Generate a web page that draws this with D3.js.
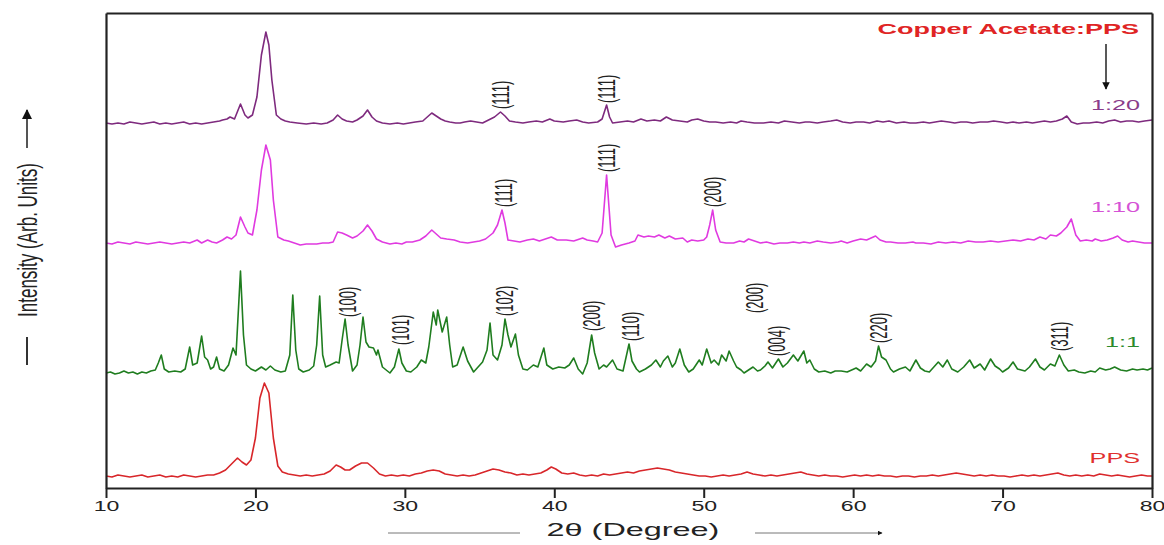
<!DOCTYPE html>
<html>
<head>
<meta charset="utf-8">
<script src="https://cdn.jsdelivr.net/npm/d3@7"></script>
<style>
  body { margin: 0; background: #fff; }
  svg { display: block; font-family: "Liberation Sans", Arial, sans-serif; }
</style>
</head>
<body>
<svg id="chart" width="1164" height="545"></svg>
<script>
// tick values of the 2-theta axis
var xTicks = [10, 20, 30, 40, 50, 60, 70, 80];

// series names, bottom to top
var sampleNames = ["PPS", "1:1", "1:10", "1:20"];

// patterns: [2theta, intensity above own baseline]
var pps = [[10,2],[10.4,1],[10.8,3],[11.2,2],[11.6,1],[12,2],[12.4,3],[12.8,1],[13.2,2],[13.6,3],[14,1],[14.4,2],[14.8,1],[15.2,3],[15.6,2],[16,1],[16.4,2],[16.8,3],[17.2,3],[17.6,5],[18,8],[18.4,14],[18.8,20],[19.1,16],[19.4,13],[19.7,18],[20,40],[20.3,80],[20.6,95],[20.9,85],[21.2,40],[21.5,12],[21.8,6],[22.2,4],[22.6,3],[23,2],[23.4,3],[23.8,2],[24.2,3],[24.6,4],[25,7],[25.4,13],[25.7,11],[26,8],[26.3,8],[26.7,12],[27.1,15],[27.5,15],[27.9,10],[28.3,4],[28.7,2],[29.1,3],[29.5,2],[29.9,3],[30.3,2],[30.7,4],[31.1,5],[31.5,7],[31.9,8],[32.3,7],[32.7,4],[33.1,3],[33.5,2],[33.9,3],[34.3,2],[34.7,3],[35.1,5],[35.5,7],[35.9,9],[36.3,8],[36.7,6],[37.1,5],[37.5,3],[37.9,4],[38.3,3],[38.7,4],[39.1,5],[39.5,8],[39.8,11],[40.1,9],[40.5,5],[40.9,4],[41.3,5],[41.7,3],[42.1,2],[42.5,3],[42.9,2],[43.3,4],[43.7,3],[44.1,4],[44.5,5],[44.9,6],[45.3,5],[45.7,7],[46.1,8],[46.5,9],[46.9,10],[47.3,9],[47.7,8],[48.1,6],[48.5,5],[48.9,4],[49.3,3],[49.7,2],[50.1,2],[50.5,1],[50.9,2],[51.3,3],[51.7,2],[52.1,3],[52.5,4],[52.9,6],[53.3,4],[53.7,3],[54.1,2],[54.5,3],[54.9,2],[55.3,3],[55.7,4],[56.1,5],[56.5,6],[56.9,4],[57.3,3],[57.7,2],[58.1,3],[58.5,2],[58.9,2],[59.3,1],[59.7,2],[60.1,3],[60.5,2],[60.9,3],[61.3,2],[61.7,3],[62.1,2],[62.5,2],[62.9,1],[63.3,2],[63.7,2],[64.1,1],[64.5,2],[64.9,2],[65.3,3],[65.7,2],[66.1,3],[66.5,4],[66.9,5],[67.3,4],[67.7,3],[68.1,2],[68.5,3],[68.9,2],[69.3,3],[69.7,2],[70.1,2],[70.5,1],[70.9,2],[71.3,3],[71.7,2],[72.1,3],[72.5,2],[72.9,3],[73.3,4],[73.7,5],[74.1,3],[74.5,2],[74.9,3],[75.3,2],[75.7,3],[76.1,2],[76.5,4],[76.9,3],[77.3,2],[77.7,3],[78.1,2],[78.5,1],[78.9,2],[79.3,3],[79.7,2],[80,2]];

var ratio1to1 = [[10,2],[10.3,3],[10.6,1],[10.9,2],[11.2,4],[11.5,2],[11.8,3],[12.1,1],[12.4,3],[12.7,2],[13,4],[13.3,5],[13.5,12],[13.7,20],[13.9,6],[14.2,3],[14.6,4],[15,3],[15.3,6],[15.6,28],[15.8,10],[16.1,12],[16.4,39],[16.6,18],[16.8,15],[17,6],[17.2,8],[17.4,18],[17.6,6],[17.9,4],[18.2,10],[18.5,27],[18.7,20],[19.0,104],[19.2,40],[19.4,10],[19.7,6],[20,4],[20.4,8],[20.7,5],[21.0,9],[21.3,5],[21.7,3],[22.0,4],[22.3,20],[22.5,80],[22.7,25],[22.9,6],[23.2,3],[23.6,5],[23.9,9],[24.1,30],[24.3,79],[24.5,20],[24.7,8],[25.0,10],[25.4,13],[25.6,12],[25.8,35],[26.0,56],[26.2,30],[26.5,4],[26.8,10],[27.0,30],[27.2,58],[27.4,33],[27.6,28],[27.9,27],[28.1,20],[28.2,25],[28.5,8],[29.0,2],[29.3,8],[29.6,26],[29.8,12],[30.1,4],[30.4,3],[30.8,8],[31.1,15],[31.4,12],[31.6,28],[31.9,63],[32.1,50],[32.2,65],[32.5,43],[32.8,58],[33.0,30],[33.2,8],[33.5,10],[33.9,28],[34.2,14],[34.6,3],[34.9,8],[35.2,13],[35.5,25],[35.7,52],[35.9,20],[36.2,15],[36.5,30],[36.7,56],[36.9,40],[37.1,28],[37.4,41],[37.6,20],[37.9,6],[38.2,5],[38.6,10],[38.9,8],[39.3,27],[39.5,10],[39.9,6],[40.3,8],[40.7,7],[41.0,10],[41.3,17],[41.6,6],[41.9,1],[42.2,12],[42.5,40],[42.7,22],[43.0,6],[43.3,10],[43.5,8],[43.9,15],[44.2,6],[44.6,4],[45.0,31],[45.2,14],[45.5,6],[45.7,3],[46.1,6],[46.5,10],[46.8,15],[47.1,8],[47.3,14],[47.6,19],[47.9,8],[48.1,12],[48.4,26],[48.7,10],[49.0,3],[49.3,6],[49.7,15],[49.9,10],[50.2,26],[50.5,12],[50.7,15],[51.0,10],[51.2,20],[51.5,14],[51.7,24],[52.0,14],[52.2,8],[52.5,5],[52.7,2],[53.0,5],[53.3,8],[53.6,4],[53.8,5],[54.1,9],[54.3,13],[54.6,7],[55.0,16],[55.3,8],[55.6,12],[56.0,20],[56.3,14],[56.5,19],[56.7,24],[56.9,12],[57.1,15],[57.4,6],[57.7,3],[58.1,4],[58.5,2],[58.8,4],[59.2,4],[59.6,3],[59.9,5],[60.2,7],[60.5,4],[60.9,11],[61.2,8],[61.5,14],[61.7,29],[61.9,18],[62.2,15],[62.5,6],[62.7,3],[63.1,6],[63.5,8],[63.8,4],[64.2,15],[64.5,7],[64.8,4],[65.1,3],[65.4,8],[65.7,13],[66.0,8],[66.3,15],[66.6,6],[67.0,3],[67.4,8],[67.8,15],[68.1,7],[68.5,11],[68.8,5],[69.2,16],[69.5,9],[69.8,6],[70.0,3],[70.4,7],[70.7,13],[71.0,6],[71.5,4],[71.8,8],[72.2,16],[72.5,8],[72.8,5],[73.2,11],[73.5,9],[73.8,20],[74.1,10],[74.4,4],[74.8,5],[75.1,3],[75.5,2],[75.9,4],[76.2,3],[76.5,7],[76.9,5],[77.2,6],[77.5,8],[77.9,5],[78.3,4],[78.7,6],[79.0,5],[79.4,6],[79.7,5],[80,7]];

var ratio1to10 = [[10,2],[10.4,1],[10.8,3],[11.2,2],[11.6,1],[12,3],[12.4,2],[12.8,1],[13.2,2],[13.6,3],[14,2],[14.4,1],[14.8,2],[15.2,3],[15.6,2],[16.1,5],[16.4,2],[16.8,5],[17.1,3],[17.4,2],[17.8,5],[18.1,8],[18.4,6],[18.7,10],[19.0,28],[19.3,18],[19.5,12],[19.8,10],[20.1,35],[20.4,75],[20.7,100],[21.0,85],[21.2,45],[21.5,8],[21.9,5],[22.2,4],[22.6,2],[23.0,0],[23.4,1],[23.8,1],[24.1,1],[24.5,2],[24.9,2],[25.2,3],[25.5,13],[25.8,12],[26.1,10],[26.5,7],[26.8,9],[27.2,14],[27.5,20],[27.8,14],[28.1,6],[28.5,3],[29.0,1],[29.4,2],[29.8,1],[30.1,3],[30.5,3],[31.0,5],[31.4,9],[31.8,15],[32.1,11],[32.4,7],[32.8,6],[33.3,5],[33.7,3],[34.2,2],[34.6,3],[35.0,4],[35.4,6],[35.9,12],[36.2,20],[36.5,35],[36.7,22],[36.9,5],[37.3,4],[37.7,3],[38.2,5],[38.6,6],[39.0,4],[39.4,6],[39.8,8],[40.2,5],[40.8,5],[41.3,4],[41.9,7],[42.2,5],[42.6,4],[42.9,3],[43.2,12],[43.5,70],[43.8,10],[44.1,-2],[44.5,0],[45.0,2],[45.4,4],[45.6,10],[46.0,8],[46.3,9],[46.7,8],[47.0,10],[47.4,7],[47.7,9],[48.1,6],[48.6,7],[48.9,3],[49.2,5],[49.6,4],[50.0,5],[50.2,8],[50.4,20],[50.6,35],[50.8,15],[51.1,3],[51.5,2],[52.0,2],[52.4,4],[52.7,3],[53.0,6],[53.4,4],[53.8,2],[54.2,3],[54.7,1],[55.1,2],[55.6,2],[56.0,3],[56.4,2],[56.7,3],[57.1,2],[57.6,4],[58.0,3],[58.5,2],[59.0,3],[59.2,4],[59.6,2],[60.0,4],[60.5,6],[60.9,5],[61.2,7],[61.5,9],[61.8,5],[62.2,3],[62.5,3],[63.0,2],[63.5,2],[64.0,3],[64.2,2],[64.7,2],[65.2,1],[65.7,3],[66.2,2],[66.7,3],[67.2,2],[67.7,4],[68.2,3],[68.7,3],[69.2,4],[69.7,3],[70.2,4],[70.7,5],[71.2,4],[71.7,6],[72.1,5],[72.5,8],[72.9,6],[73.2,10],[73.6,9],[73.9,12],[74.3,18],[74.6,26],[74.9,10],[75.2,4],[75.6,5],[76.0,4],[76.2,6],[76.6,4],[77.0,5],[77.4,7],[77.7,9],[78.0,5],[78.4,3],[78.7,4],[79.1,3],[79.5,2],[80,2]];

var ratio1to20 = [[10,2],[10.4,1],[10.8,2],[11.2,1],[11.6,3],[12,2],[12.4,1],[12.8,2],[13.2,3],[13.6,1],[14,2],[14.4,1],[14.8,2],[15.2,3],[15.6,1],[16,2],[16.4,1],[16.8,2],[17.2,3],[17.6,4],[17.8,5],[18.1,6],[18.3,8],[18.6,6],[19.0,21],[19.3,10],[19.5,7],[19.8,10],[20.1,28],[20.4,70],[20.7,93],[20.9,80],[21.1,45],[21.4,10],[21.7,6],[22.0,4],[22.3,3],[22.8,2],[23.4,1],[23.9,2],[24.4,1],[24.8,2],[25.2,5],[25.5,10],[25.8,6],[26.1,4],[26.5,3],[26.8,5],[27.2,9],[27.5,15],[27.8,8],[28.1,4],[28.5,2],[29.0,1],[29.5,2],[29.9,1],[30.3,2],[30.7,3],[31.2,4],[31.5,8],[31.8,12],[32.1,9],[32.4,6],[32.7,4],[33.0,3],[33.4,2],[33.7,2],[34.0,3],[34.4,4],[34.8,3],[35.2,2],[35.6,5],[36.0,8],[36.4,13],[36.7,9],[37.0,4],[37.4,3],[37.9,2],[38.3,3],[38.8,4],[39.2,3],[39.7,6],[40.0,4],[40.6,3],[41.0,4],[41.5,5],[41.9,3],[42.3,2],[42.9,3],[43.2,6],[43.5,20],[43.7,8],[43.9,2],[44.4,3],[44.9,4],[45.3,3],[45.8,6],[46.2,4],[46.7,5],[47.1,4],[47.5,8],[47.9,5],[48.4,4],[48.9,3],[49.2,5],[49.6,6],[50.0,4],[50.4,3],[50.8,3],[51.3,2],[51.8,3],[52.2,2],[52.5,4],[52.9,3],[53.4,2],[54.0,2],[54.5,3],[55.0,2],[55.4,4],[55.9,3],[56.4,2],[56.8,3],[57.1,3],[57.6,2],[58.0,3],[58.5,4],[58.9,5],[59.3,3],[59.8,2],[60.2,3],[60.7,3],[61.1,2],[61.6,4],[62.0,3],[62.4,4],[62.9,2],[63.4,3],[63.8,2],[64.2,2],[64.7,3],[65.1,2],[65.5,3],[65.9,4],[66.4,3],[66.8,2],[67.2,3],[67.6,3],[68.0,2],[68.5,3],[69.0,3],[69.4,4],[69.9,3],[70.3,2],[70.7,3],[71.1,2],[71.6,3],[72.0,2],[72.4,3],[72.8,4],[73.2,3],[73.6,4],[74.0,6],[74.3,9],[74.6,3],[75.0,1],[75.4,2],[75.8,2],[76.3,3],[76.7,2],[77.1,4],[77.5,5],[77.9,3],[78.3,4],[78.7,4],[79.1,3],[79.5,4],[80,5]];

// Miller indices: [sample, hkl, 2theta, intensity where the label starts]
var peakLabels = [
  ["1:20", "(111)", 36.4, 16], ["1:20", "(111)", 43.5, 22],
  ["1:10", "(111)", 36.6, 38], ["1:10", "(111)", 43.5, 73], ["1:10", "(200)", 50.6, 38],
  ["1:1", "(100)", 26.2, 58], ["1:1", "(101)", 29.7, 30], ["1:1", "(102)", 36.7, 59],
  ["1:1", "(200)", 42.5, 44], ["1:1", "(110)", 45.1, 34], ["1:1", "(200)", 53.4, 62],
  ["1:1", "(004)", 54.9, 19], ["1:1", "(220)", 61.7, 32], ["1:1", "(311)", 73.8, 24]
];

var svg = d3.select("#chart");
var SX = 1.8; // the original figure is stretched sideways, text too

var margin = {top: 13, right: 12, bottom: 57, left: 106};
var W = 1164 - margin.left - margin.right;
var H = 545 - margin.top - margin.bottom;

var x = d3.scaleLinear().domain([10, 80]).range([0, W]);
var y = d3.scaleLinear().domain([0, 475]).range([H, 0]);

var g = svg.append("g").attr("transform", "translate(" + margin.left + "," + margin.top + ")");

// stacking offsets and colours for each trace
var series = [
  {name: "PPS",  data: pps,        offset: 10,  color: "#d8262a", text: "#e0302e", labelH: 20},
  {name: "1:1",  data: ratio1to1,  offset: 113, color: "#1f7d1f", text: "#2c8a2c", labelH: 33},
  {name: "1:10", data: ratio1to10, offset: 243, color: "#e03ae0", text: "#d552d5", labelH: 38},
  {name: "1:20", data: ratio1to20, offset: 363, color: "#7e2a7e", text: "#8a3c8a", labelH: 20}
];
var byName = {};
series.forEach(function(s) { byName[s.name] = s; });

series.forEach(function(s) {
  var line = d3.line()
    .x(function(d) { return x(d[0]); })
    .y(function(d) { return y(s.offset + d[1]); });
  g.append("path")
    .datum(s.data)
    .attr("fill", "none")
    .attr("stroke", s.color)
    .attr("stroke-width", 1.6)
    .attr("stroke-linejoin", "round")
    .attr("d", line);

  g.append("text")
    .attr("transform", "translate(" + (W - 12) + "," + y(s.offset + s.labelH) + ") scale(" + SX + ",1)")
    .attr("text-anchor", "end")
    .attr("dy", "0.35em")
    .attr("fill", s.text)
    .style("font-size", "14px")
    .text(s.name);
});

// hkl labels, rotated
g.selectAll(".hkl")
  .data(peakLabels)
  .enter().append("text")
  .attr("class", "hkl")
  .attr("transform", function(d) {
    var s = byName[d[0]];
    return "translate(" + x(d[2]) + "," + y(s.offset + d[3]) + ") scale(" + SX + ",1) rotate(-90)";
  })
  .attr("dy", "0.35em")
  .attr("fill", "#222")
  .style("font-size", "13px")
  .text(function(d) { return d[1]; });

// axes: bottom with ticks, the rest plain frame
var xAxis = g.append("g")
  .attr("transform", "translate(0," + H + ")")
  .call(d3.axisBottom(x).tickValues(xTicks).tickSize(10).tickSizeOuter(0).tickFormat(d3.format("d")));
xAxis.selectAll("text")
  .attr("transform", "scale(1.65,1)")
  .style("font-size", "14px")
  .attr("fill", "#222");

g.append("g").call(d3.axisLeft(y).tickValues([]).tickSizeOuter(0));
g.append("g").call(d3.axisTop(x).tickValues([]).tickSizeOuter(0));
g.append("g").attr("transform", "translate(" + W + ",0)").call(d3.axisRight(y).tickValues([]).tickSizeOuter(0));
g.selectAll(".domain").attr("stroke", "#222").attr("stroke-width", 2.2);
g.selectAll(".tick line").attr("stroke", "#222").attr("stroke-width", 2);

// arrow marker
svg.append("defs").append("marker")
  .attr("id", "head")
  .attr("viewBox", "0 0 10 10")
  .attr("refX", 9).attr("refY", 5)
  .attr("markerWidth", 5).attr("markerHeight", 5)
  .attr("orient", "auto")
  .append("path").attr("d", "M0,0L10,5L0,10z").attr("fill", "#111");

// x title with arrow lines
svg.append("text")
  .attr("transform", "translate(633,530) scale(" + SX + ",1)")
  .attr("text-anchor", "middle")
  .attr("dy", "0.35em")
  .attr("fill", "#222")
  .style("font-size", "18px")
  .text("2θ (Degree)");
svg.append("line").attr("x1", 388).attr("x2", 520).attr("y1", 533).attr("y2", 533)
  .attr("stroke", "#777").attr("stroke-width", 1);
svg.append("line").attr("x1", 755).attr("x2", 882).attr("y1", 533).attr("y2", 533)
  .attr("stroke", "#777").attr("stroke-width", 1).attr("marker-end", "url(#head)");

// y title with arrow lines
svg.append("text")
  .attr("transform", "translate(27,240) scale(1.6,1) rotate(-90)")
  .attr("text-anchor", "middle")
  .attr("dy", "0.35em")
  .attr("fill", "#222")
  .style("font-size", "17px")
  .text("Intensity (Arb. Units)");
svg.append("line").attr("x1", 27).attr("x2", 27).attr("y1", 337).attr("y2", 365)
  .attr("stroke", "#333").attr("stroke-width", 2);
svg.append("line").attr("x1", 27).attr("x2", 27).attr("y1", 148).attr("y2", 110)
  .attr("stroke", "#555").attr("stroke-width", 2).attr("marker-end", "url(#head)");

// legend title and pointer
svg.append("text")
  .attr("transform", "translate(1139,29) scale(" + SX + ",1)")
  .attr("text-anchor", "end")
  .attr("dy", "0.35em")
  .attr("fill", "#e02424")
  .style("font-size", "15px")
  .style("font-weight", "bold")
  .text("Copper Acetate:PPS");
svg.append("line").attr("x1", 1106).attr("x2", 1106).attr("y1", 44).attr("y2", 89)
  .attr("stroke", "#222").attr("stroke-width", 1.5).attr("marker-end", "url(#head)");
</script>
</body>
</html>
